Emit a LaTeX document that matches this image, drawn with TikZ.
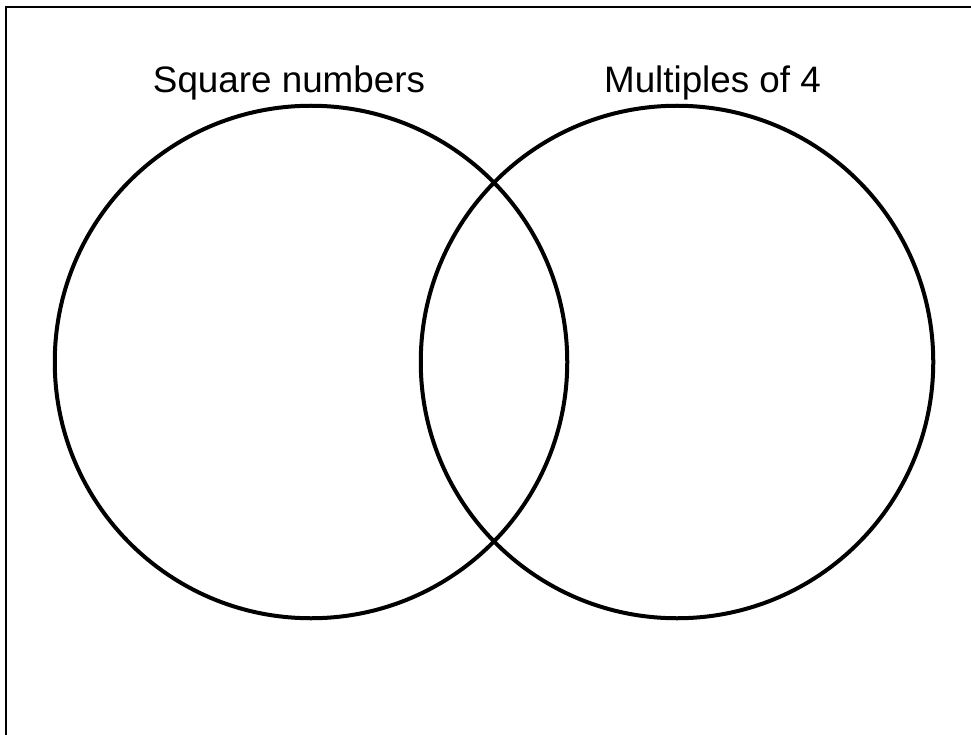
\documentclass[tikz,border=0pt]{standalone}
\usepackage{fontspec}
\setmainfont{Liberation Sans}
\begin{document}
\begin{tikzpicture}[x=1pt,y=-1pt,
  setcircle/.style={draw=black,line width=4pt},
  setlabel/.style={anchor=base,inner sep=0pt,font=\fontsize{36.8}{40}\selectfont},
  frame/.style={draw=black,line width=2pt}]
\useasboundingbox (0,0) rectangle (971,735);
\fill[white] (0,0) rectangle (971,735);
\begin{scope}
\clip (0,0) rectangle (971,735);
\draw[frame] (6,7) rectangle (990,760);
\end{scope}
\node[setcircle,circle,minimum size=512.5pt,inner sep=0pt] (A) at (311,362) {};
\node[setcircle,circle,minimum size=512.5pt,inner sep=0pt] (B) at (677,362) {};
\node[setlabel] (la) at (289,93) {Square numbers};
\node[setlabel] (lb) at (712.5,93) {Multiples of 4};
\end{tikzpicture}
\end{document}
